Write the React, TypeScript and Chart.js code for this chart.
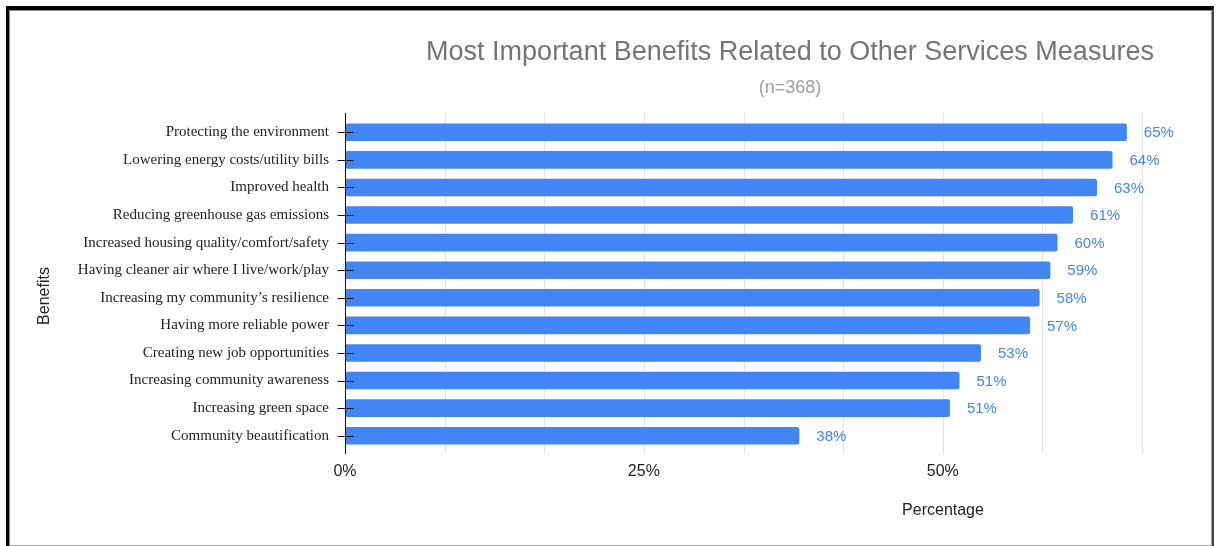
import React, { useEffect, useRef } from "react";
import { Chart, registerables } from "chart.js";

Chart.register(...registerables);

const TITLE = "Most Important Benefits Related to Other Services Measures";
const SUBTITLE = "(n=368)";
const Y_TITLE = "Benefits";
const X_TITLE = "Percentage";

const categories: string[] = [
  "Protecting the environment",
  "Lowering energy costs/utility bills",
  "Improved health",
  "Reducing greenhouse gas emissions",
  "Increased housing quality/comfort/safety",
  "Having cleaner air where I live/work/play",
  "Increasing my community\u2019s resilience",
  "Having more reliable power",
  "Creating new job opportunities",
  "Increasing community awareness",
  "Increasing green space",
  "Community beautification",
];

const values: number[] = [65.4, 64.2, 62.9, 60.9, 59.6, 59.0, 58.1, 57.3, 53.2, 51.4, 50.6, 38.0];

const labeledTicks: number[] = [0, 25, 50];
const AXIS_MAX = 200 / 3;
const AXIS_STEP = 25 / 3;

const BAR_COLOR = "#4285F4";
const LABEL_COLOR = "#4285F4";

const decorPlugin = {
  id: "decor",
  beforeDatasetsDraw(chart: any) {
    const { ctx, chartArea: a, scales } = chart;
    const x = scales.x;
    ctx.save();
    ctx.strokeStyle = "#e3e3e3";
    ctx.lineWidth = 1;
    x.ticks.forEach((t: any) => {
      if (Math.abs(t.value) < 1e-6) return;
      const px = Math.round(x.getPixelForValue(t.value)) + 0.5;
      ctx.beginPath();
      ctx.moveTo(px, a.top - 5.5);
      ctx.lineTo(px, a.bottom + 4.5);
      ctx.stroke();
    });
    ctx.restore();
  },
  afterDatasetsDraw(chart: any) {
    const { ctx, chartArea: a, scales } = chart;
    const x = scales.x;
    const y = scales.y;
    ctx.save();
    const x0 = Math.round(x.getPixelForValue(0)) + 0.5;
    ctx.strokeStyle = "#111";
    ctx.lineWidth = 1;
    ctx.beginPath();
    ctx.moveTo(x0, a.top - 5.5);
    ctx.lineTo(x0, a.bottom + 4.5);
    ctx.stroke();
    y.ticks.forEach((_t: any, i: number) => {
      const py = Math.round(y.getPixelForTick(i)) + 0.5;
      ctx.beginPath();
      ctx.moveTo(x0 - 8, py);
      ctx.lineTo(x0 + 8, py);
      ctx.stroke();
    });
    const meta = chart.getDatasetMeta(0);
    ctx.fillStyle = LABEL_COLOR;
    ctx.font = "15px 'Liberation Sans', Arial, sans-serif";
    ctx.textAlign = "left";
    ctx.textBaseline = "middle";
    meta.data.forEach((bar: any, i: number) => {
      ctx.fillText(Math.round(values[i]) + "%", bar.x + 17, bar.y + 1);
    });
    ctx.restore();
  },
  afterDraw(chart: any) {
    const { ctx } = chart;
    ctx.save();
    ctx.textAlign = "center";
    ctx.textBaseline = "middle";
    ctx.fillStyle = "#757575";
    ctx.font = "27px 'Liberation Sans', Arial, sans-serif";
    ctx.fillText(TITLE, 790, 53);
    ctx.fillStyle = "#9e9e9e";
    ctx.font = "18px 'Liberation Sans', Arial, sans-serif";
    ctx.fillText(SUBTITLE, 790, 88);
    ctx.fillStyle = "#222";
    ctx.font = "16px 'Liberation Sans', Arial, sans-serif";
    ctx.fillText(X_TITLE, 943, 511);
    ctx.translate(45, 296);
    ctx.rotate(-Math.PI / 2);
    ctx.fillText(Y_TITLE, 0, 0);
    ctx.restore();
  },
};

export default function App() {
  const canvasRef = useRef<HTMLCanvasElement | null>(null);

  useEffect(() => {
    const canvas = canvasRef.current;
    if (!canvas) return;
    const chart = new Chart(canvas, {
      type: "bar",
      data: {
        labels: categories,
        datasets: [
          {
            data: values,
            backgroundColor: BAR_COLOR,
            borderRadius: 2,
            borderSkipped: false,
            barPercentage: 0.64,
            categoryPercentage: 1,
          },
        ],
      },
      options: {
        indexAxis: "y",
        responsive: false,
        animation: false,
        devicePixelRatio: 1,
        layout: { padding: { top: 118.5, right: 74, bottom: 0, left: 0 } },
        plugins: {
          legend: { display: false },
          title: { display: false },
          tooltip: { enabled: false },
        },
        scales: {
          x: {
            type: "linear",
            min: 0,
            max: AXIS_MAX,
            grid: { display: false, drawTicks: false },
            border: { display: false },
            ticks: {
              stepSize: AXIS_STEP,
              autoSkip: false,
              padding: 12,
              color: "#222",
              font: { family: "'Liberation Sans', Arial, sans-serif", size: 16 },
              callback: (v: any) => {
                const n = Number(v);
                const hit = labeledTicks.find((t) => Math.abs(t - n) < 1e-6);
                return hit === undefined ? "" : hit + "%";
              },
            },
            afterFit: (scale: any) => {
              scale.height = 96.5;
            },
          },
          y: {
            type: "category",
            grid: { display: false, drawTicks: false },
            border: { display: false },
            ticks: {
              autoSkip: false,
              padding: 16,
              color: "#222",
              font: { family: "'Liberation Serif', 'Times New Roman', serif", size: 15 },
            },
            afterFit: (scale: any) => {
              scale.width = 345;
            },
          },
        },
      },
      plugins: [decorPlugin],
    });
    return () => chart.destroy();
  }, []);

  return (
    <div style={{ position: "absolute", left: 0, top: 0, width: 1216, height: 546, background: "#fff", overflow: "hidden" }}>
      <canvas ref={canvasRef} width={1216} height={546} style={{ position: "absolute", left: 0, top: 0, width: 1216, height: 546 }} />
      <div
        style={{
          position: "absolute",
          left: 6,
          top: 6,
          width: 1203,
          height: 536,
          borderTop: "4px solid #000",
          borderLeft: "3px solid #000",
          borderRight: "2px solid #444",
          pointerEvents: "none",
        }}
      >
        <div
          style={{
            position: "absolute",
            left: 0,
            top: 0,
            right: 0,
            bottom: 0,
            borderTop: "1px solid #888",
            borderLeft: "1px solid #888",
            borderRight: "1px solid #999",
            borderBottom: "1px solid #aaa",
          }}
        />
      </div>
    </div>
  );
}
